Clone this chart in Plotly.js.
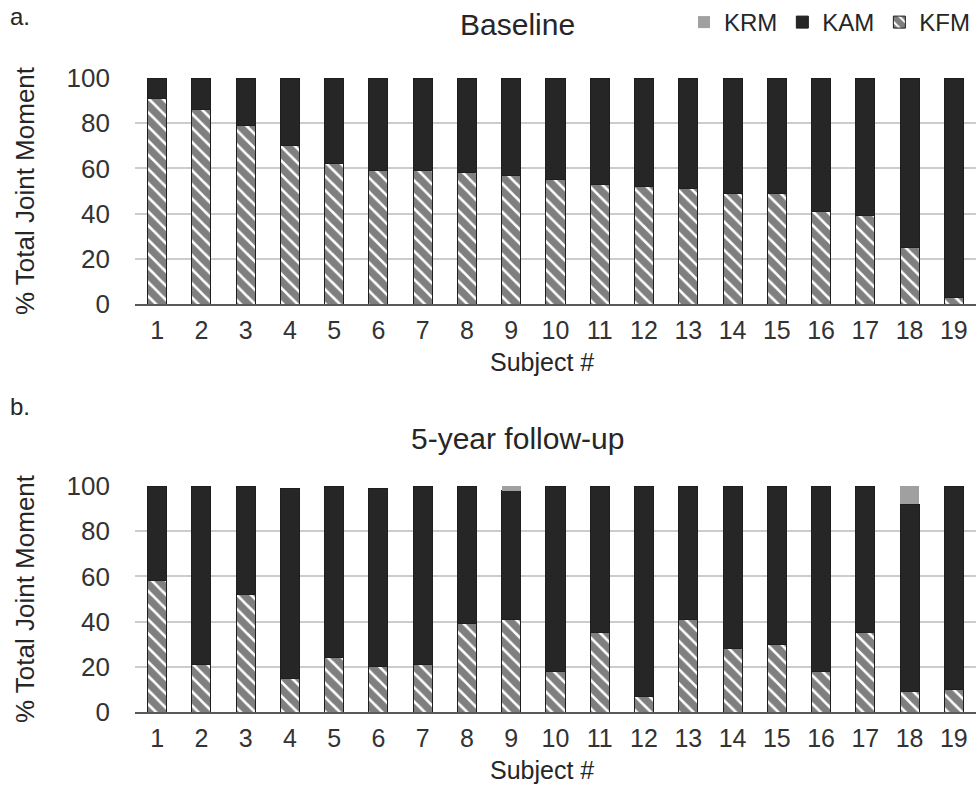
<!DOCTYPE html>
<html>
<head>
<meta charset="utf-8">
<script src="https://cdn.plot.ly/plotly-3.0.1.min.js"></script>
<style>html,body{margin:0;padding:0;background:#fff;}#chart{width:976px;height:805px;}</style>
</head>
<body>
<div id="chart"></div>
<script>
const subjects = ['1','2','3','4','5','6','7','8','9','10','11','12','13','14','15','16','17','18','19'];

// Baseline (panel a), % of total joint moment
const baseKFM = [91, 86, 79, 70, 62, 59, 59, 58, 57, 55, 53, 52, 51, 49, 49, 41, 39, 25, 3];
const baseKAM = [9, 14, 21, 30, 38, 41, 41, 42, 43, 45, 47, 48, 49, 51, 51, 59, 61, 75, 97];
const baseKRM = [0, 0, 0, 0, 0, 0, 0, 0, 0, 0, 0, 0, 0, 0, 0, 0, 0, 0, 0];

// 5-year follow-up (panel b)
const fuKFM = [58, 21, 52, 15, 24, 20, 21, 39, 41, 18, 35, 7, 41, 28, 30, 18, 35, 9, 10];
const fuKAM = [42, 79, 48, 84, 76, 79, 79, 61, 57, 82, 65, 93, 59, 72, 70, 82, 65, 83, 90];
const fuKRM = [0, 0, 0, 0, 0, 0, 0, 0, 2, 0, 0, 0, 0, 0, 0, 0, 0, 8, 0];

const panelTitles = ['Baseline', '5-year follow-up'];
const panelLetters = ['a.', 'b.'];
const yTickVals = [0, 20, 40, 60, 80, 100];
const xTitle = 'Subject #';
const yTitle = '% Total Joint Moment';

const KAMcolor = '#262626';
const KRMcolor = '#a0a0a0';
const outline = {color: '#1e1e1e', width: 1};

function mk(name, y, xa, ya, show) {
  const t = {type: 'bar', name: name, x: subjects, y: y, xaxis: xa, yaxis: ya,
    showlegend: show, legendgroup: name, hoverinfo: 'x+y+name'};
  if (name === 'KFM') {
    t.marker = {color: '#ffffff', line: outline,
      pattern: {shape: '\\', fgcolor: '#000000', bgcolor: '#ffffff', size: 10, solidity: 0.75, fillmode: 'overlay'}};
  } else if (name === 'KAM') {
    t.marker = {color: KAMcolor, line: outline};
  } else {
    t.marker = {color: KRMcolor, line: {color: KRMcolor, width: 0}};
  }
  return t;
}

const data = [
  mk('KFM', baseKFM, 'x', 'y', true),
  mk('KAM', baseKAM, 'x', 'y', true),
  mk('KRM', baseKRM, 'x', 'y', true),
  mk('KFM', fuKFM, 'x2', 'y2', false),
  mk('KAM', fuKAM, 'x2', 'y2', false),
  mk('KRM', fuKRM, 'x2', 'y2', false)
];

const FAM = 'Liberation Sans, Arial, sans-serif';
const font = {family: FAM, size: 26, color: '#262626'};

function xax(anchor) {
  return {anchor: anchor, domain: [0, 1], type: 'category', showgrid: false,
    showline: true, linecolor: '#595959', linewidth: 2, ticks: '', ticklabelstandoff: 3,
    tickfont: {family: FAM, size: 25, color: '#333333'},
    automargin: false, fixedrange: true};
}
function yax(anchor, dom) {
  return {anchor: anchor, domain: dom, range: [0, 100], tickvals: yTickVals,
    showgrid: true, gridcolor: '#cccccc', gridwidth: 2, zeroline: false,
    showline: false, ticks: '', ticklabelstandoff: 24,
    tickfont: {family: FAM, size: 26, color: '#333333'},
    title: {text: yTitle, font: {family: FAM, size: 26, color: '#262626'}, standoff: 24},
    automargin: false, fixedrange: true};
}

const PW = 841;
function ann(text, xpx, ypx, size, anchor) {
  return {text: text, xref: 'paper', yref: 'paper', x: (xpx - 135)/PW, y: 1 - ypx/805,
    xanchor: anchor, yanchor: 'middle', showarrow: false, font: {family: FAM, size: size, color: '#262626'}};
}
const layout = {
  width: 976, height: 805,
  margin: {l: 135, r: 0, t: 0, b: 0, autoexpand: false},
  paper_bgcolor: '#ffffff', plot_bgcolor: '#ffffff',
  font: font,
  barmode: 'stack', bargap: 0.57,
  xaxis: xax('y'),
  yaxis: yax('x', [1 - 304/805, 1 - 78/805]),
  xaxis2: xax('y2'),
  yaxis2: yax('x2', [1 - 712/805, 1 - 486/805]),
  showlegend: true,
  legend: {orientation: 'h', traceorder: 'reversed', x: 1, xanchor: 'right', y: 1, yanchor: 'top',
    font: {family: FAM, size: 24, color: '#262626'}, itemwidth: 30, bgcolor: 'rgba(0,0,0,0)'},
  annotations: [
    ann(panelLetters[0], 8, 17, 24, 'left'),
    ann(panelTitles[0], 517, 25, 30, 'center'),
    ann(xTitle, 542, 362, 25, 'center'),
    ann(panelLetters[1], 8, 406, 24, 'left'),
    ann(panelTitles[1], 517, 438, 30, 'center'),
    ann(xTitle, 542, 770, 25, 'center')
  ]
};

Plotly.newPlot('chart', data, layout, {staticPlot: true, displayModeBar: false});
</script>
</body>
</html>
